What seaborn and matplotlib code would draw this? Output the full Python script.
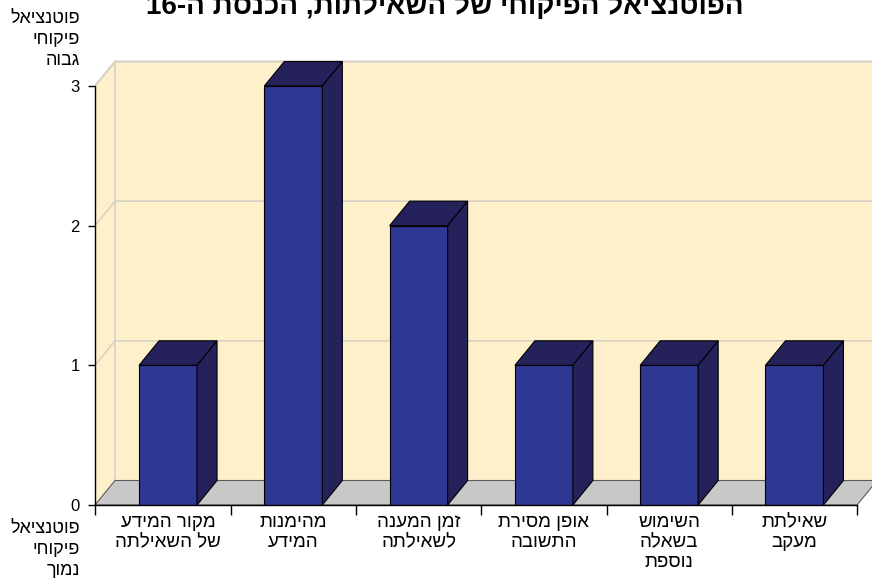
import re
import matplotlib
matplotlib.use("Agg")
import matplotlib.pyplot as plt
from matplotlib.patches import Polygon
import seaborn as sns
import pandas as pd

# ---- data ----
categories = ["מקור המידע של השאילתה", "מהימנות המידע", "זמן המענה לשאילתה",
              "אופן מסירת התשובה", "השימוש בשאלה נוספת", "שאילתת מעקב"]
category_lines = [["מקור המידע", "של השאילתה"], ["מהימנות", "המידע"],
                  ["זמן המענה", "לשאילתה"], ["אופן מסירת", "התשובה"],
                  ["השימוש", "בשאלה", "נוספת"], ["שאילתת", "מעקב"]]
values = [1, 3, 2, 1, 1, 1]
y_ticks = [0, 1, 2, 3]
title = "הפוטנציאל הפיקוחי של השאילתות, הכנסת ה-16"
high_label = ["פוטנציאל", "פיקוחי", "גבוה"]
low_label = ["פוטנציאל", "פיקוחי", "נמוך"]


def visual(s):
    """Right-to-left text in display order (digit runs keep their order)."""
    r = s[::-1]
    return re.sub(r"\d+", lambda m: m.group(0)[::-1], r)


sns.set_theme(style="white")
plt.rcParams["font.family"] = ["Liberation Sans", "DejaVu Sans"]

FRONT = "#2E3791"
DARK = "#25215B"
WALL = "#FEF0CA"
FLOOR = "#C8C8C8"
GRID = "#D6D2C6"

W, H = 872, 582
fig = plt.figure(figsize=(W / 100, H / 100), dpi=100)
x_left, x_right = 95.0, 857.1
y_bottom, y_top = 505.0, 86.0
ax = fig.add_axes([x_left / W, 1 - y_bottom / H,
                   (x_right - x_left) / W, (y_bottom - y_top) / H])

xmin, xmax = -0.583, 5.5
ymin, ymax = 0, 3
ax.set_xlim(xmin, xmax)
ax.set_ylim(ymin, ymax)

# depth offset of the 3-D box (in data units)
px_x = (x_right - x_left) / (xmax - xmin)
px_y = (y_bottom - y_top) / (ymax - ymin)
dx = 20 / px_x
dy = 24.5 / px_y

# walls and floor
back = Polygon([(xmin + dx, dy), (xmax + dx, dy), (xmax + dx, ymax + dy), (xmin + dx, ymax + dy)],
               closed=True, facecolor=WALL, edgecolor="none", zorder=0.5, clip_on=False)
side = Polygon([(xmin, 0), (xmin + dx, dy), (xmin + dx, ymax + dy), (xmin, ymax)],
               closed=True, facecolor=WALL, edgecolor="none", zorder=0.5, clip_on=False)
ax.add_patch(back)
ax.add_patch(side)
for v in y_ticks[1:]:
    ax.plot([xmin, xmin + dx, xmax + dx + 1], [v, v + dy, v + dy], color=GRID,
            lw=1.6 if v == ymax else 1.2, zorder=0.6, clip_on=False, solid_capstyle="butt")
ax.plot([xmin + dx, xmin + dx], [dy, ymax + dy], color=GRID, lw=1.2, zorder=0.6, clip_on=False)
floor = Polygon([(xmin, 0), (xmax, 0), (xmax + dx, dy), (xmin + dx, dy)], closed=True,
                facecolor=FLOOR, edgecolor="#5A5A5A", lw=0.8, zorder=0.7, clip_on=False)
ax.add_patch(floor)

# front faces of the columns
df = pd.DataFrame({"category": categories, "value": values})
sns.barplot(data=df, x="category", y="value", order=categories, width=0.463,
            color=FRONT, saturation=1, edgecolor="black", linewidth=0.8, ax=ax, zorder=3)

# top and side faces derived from each drawn bar
for bar in list(ax.patches):
    if not hasattr(bar, "get_height") or bar in (back, side, floor):
        continue
    x0, y0 = bar.get_x(), bar.get_y()
    w, h = bar.get_width(), bar.get_height()
    x1, y1 = x0 + w, y0 + h
    top = Polygon([(x0, y1), (x1, y1), (x1 + dx, y1 + dy), (x0 + dx, y1 + dy)], closed=True,
                  facecolor=DARK, edgecolor="black", lw=0.8, zorder=3.5, clip_on=False)
    right = Polygon([(x1, y0), (x1 + dx, y0 + dy), (x1 + dx, y1 + dy), (x1, y1)], closed=True,
                    facecolor=DARK, edgecolor="black", lw=0.8, zorder=3.5, clip_on=False)
    ax.add_patch(top)
    ax.add_patch(right)

ax.set_xlim(xmin, xmax)
ax.set_ylim(ymin, ymax)
ax.set_facecolor("none")
ax.set_xlabel("")
ax.set_ylabel("")
for s in ("top", "right"):
    ax.spines[s].set_visible(False)
for s in ("left", "bottom"):
    ax.spines[s].set_color("black")
    ax.spines[s].set_linewidth(1.0)
    ax.spines[s].set_zorder(5)

# axes ticks
ax.set_yticks(y_ticks, [str(v) for v in y_ticks])
ax.tick_params(axis="y", which="major", left=True, length=5, width=1, color="black",
               pad=6, labelsize=12, labelcolor="black")
boundaries = [xmin] + [i + 0.5 for i in range(len(categories))]
ax.set_xticks(boundaries, [""] * len(boundaries))
ax.set_xticks(range(len(categories)),
              ["\n".join(visual(l) for l in lines) for lines in category_lines], minor=True)
ax.tick_params(axis="x", which="major", bottom=True, length=7, width=1, color="black")
ax.tick_params(axis="x", which="minor", bottom=True, length=0, pad=6.5,
               labelsize=13.5, labelcolor="black")
for t in ax.get_xticklabels(minor=True):
    t.set_linespacing(1.24)

# axis end captions
fig.text(80 / W, 1 - 10 / H, "\n".join(visual(l) for l in high_label), ha="right", va="top",
         fontsize=13, linespacing=1.3, color="black")
fig.text(80 / W, 1 - 520 / H, "\n".join(visual(l) for l in low_label), ha="right", va="top",
         fontsize=13, linespacing=1.32, color="black")

fig.text(445 / W, 1 - 14 / H, visual(title), ha="center", va="baseline",
         fontsize=20, fontweight="bold", color="black")

fig.savefig("out.png", dpi=100)
